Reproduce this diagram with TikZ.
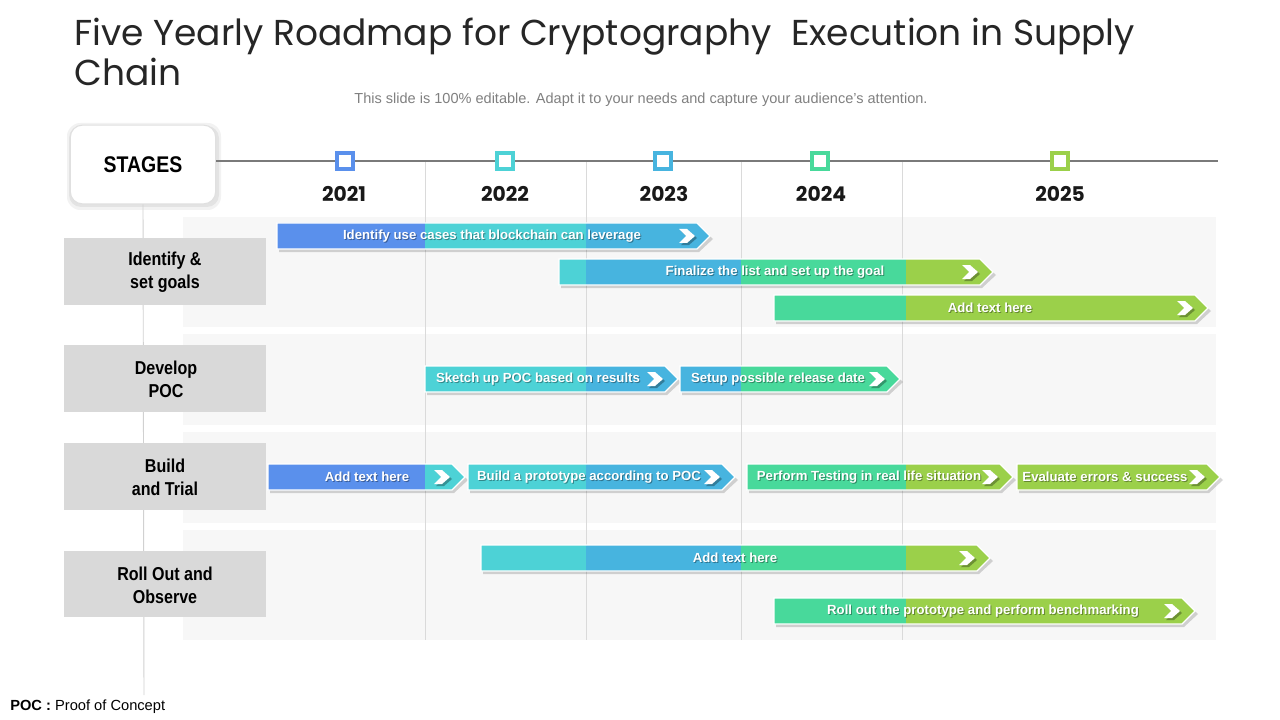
\documentclass[tikz,border=0pt]{standalone}
\usepackage{fontspec}
\setmainfont{Liberation Sans}
\newfontfamily\titlefont{Poppins}
\newfontfamily\condfont{Liberation Sans}[FakeStretch=0.86]
\usetikzlibrary{calc}
\definecolor{cA}{HTML}{5A90EC}
\definecolor{cB}{HTML}{4DD2D6}
\definecolor{cC}{HTML}{47B4DF}
\definecolor{cD}{HTML}{48D99B}
\definecolor{cE}{HTML}{9BD04A}
\definecolor{panel}{HTML}{F7F7F7}
\definecolor{stagebox}{HTML}{D9D9D9}
\definecolor{colline}{HTML}{DADADA}
\tikzset{
  bartext/.style={font=\bfseries\fontsize{9.9}{11}\selectfont, text=white, inner sep=0pt},
  stagelabel/.style={font=\condfont\bfseries\fontsize{14}{17}\selectfont, align=center, text=black},
  yearlabel/.style={font=\titlefont\bfseries\fontsize{15.2}{17}\selectfont, text=black!90},
  marker/.style={draw=#1, fill=white, line width=3pt, minimum size=11.5pt, inner sep=0pt, rectangle},
}
% name, x1, x2, yc, textx, text
\newcommand\rmbar[6]{%
  \fill[black,opacity=0.16] (#2+2,#4-10) -- (#3-11,#4-10) -- (#3+3,#4+3) -- (#3-11,#4+16) -- (#2+2,#4+16) -- cycle;
  \begin{scope}
    \clip (#2,#4-13) -- (#3-13,#4-13) -- (#3,#4) -- (#3-13,#4+13) -- (#2,#4+13) -- cycle;
    \fill[cA] (0,0) rectangle (425,720);
    \fill[cB] (425,0) rectangle (586,720);
    \fill[cC] (586,0) rectangle (741,720);
    \fill[cD] (741,0) rectangle (906,720);
    \fill[cE] (906,0) rectangle (1280,720);
  \end{scope}
  \draw[white,line width=0.9pt,line join=miter] (#2,#4-13) -- (#3-13,#4-13) -- (#3,#4) -- (#3-13,#4+13) -- (#2,#4+13) -- cycle;
  \node[bartext,text=black,opacity=0.35] (#1s) at (#5+1,#4+1.2) {#6};
  \node[bartext] (#1) at (#5,#4) {#6};
  \fill[black,opacity=0.3] (#3-29,#4-5) -- (#3-21,#4-5) -- (#3-13,#4+2) -- (#3-21,#4+9) -- (#3-29,#4+9) -- (#3-22,#4+2) -- cycle;
  \fill[white] (#3-31,#4-7) -- (#3-23,#4-7) -- (#3-15,#4) -- (#3-23,#4+7) -- (#3-31,#4+7) -- (#3-24,#4) -- cycle;
}
\begin{document}
\begin{tikzpicture}[x=0.75pt,y=-0.75pt]
\useasboundingbox (0,0) rectangle (1280,720);
\fill[white] (0,0) rectangle (1280,720);

% title
\node[anchor=base west, inner sep=0pt, align=left, font=\titlefont\fontsize{27}{30}\selectfont, text=black!85] (title) at (74,86) {Five Yearly Roadmap for Cryptography\ \ Execution in Supply\\Chain};
\node[font=\fontsize{10.9}{12}\selectfont, text=black!50, inner sep=0pt] (sub) at (641,100) {This slide is 100\% editable. Adapt it to your needs and capture your audience's attention.};

% row panels
\fill[panel] (183,217) rectangle (1216,327);
\fill[panel] (183,334) rectangle (1216,425);
\fill[panel] (183,432) rectangle (1216,523);
\fill[panel] (183,530) rectangle (1216,640);

% column lines
\foreach \cx in {425,586,741,902} \draw[colline,line width=0.7pt] (\cx,162) -- (\cx,640);

% stages box
\fill[black,opacity=0.05,rounded corners=10pt] (67,123) rectangle (221,210);
\fill[black,opacity=0.06,rounded corners=9pt] (69,126) rectangle (219,207);
\node[draw=black!12, fill=white, rounded corners=9pt, minimum width=109pt, minimum height=59pt, line width=0.8pt, font=\condfont\bfseries\fontsize{17}{20}\selectfont] (stages) at (143,164.5) {STAGES};
\coordinate (vend) at (144,695);
\draw[black!18,line width=0.7pt] (stages.south) -- (vend);

% timeline
\coordinate (tlend) at (1218,161);
\draw[black!52,line width=1.5pt] (stages.east) ++(0,-3.5) -- (tlend);
\node[marker=cA] (m21) at (345,161) {};
\node[marker=cB] (m22) at (505,161) {};
\node[marker=cC] (m23) at (663,161) {};
\node[marker=cD] (m24) at (820,161) {};
\node[marker=cE] (m25) at (1060,161) {};
\node[yearlabel] (y21) at (344,194) {2021};
\node[yearlabel] (y22) at (505,194) {2022};
\node[yearlabel] (y23) at (664,194) {2023};
\node[yearlabel] (y24) at (821,194) {2024};
\node[yearlabel] (y25) at (1060,194) {2025};

% stage labels
\fill[stagebox] (64,238) rectangle (266,305);
\node[stagelabel] (s1) at (165,272) {Identify \&\\set goals};
\fill[stagebox] (64,345) rectangle (266,412);
\node[stagelabel] (s2) at (166,379) {Develop\\POC};
\fill[stagebox] (64,443) rectangle (266,510);
\node[stagelabel] (s3) at (165,477) {Build\\and Trial};
\fill[stagebox] (64,551) rectangle (266,617);
\node[stagelabel] (s4) at (165,585) {Roll Out and\\Observe};

% bars
\rmbar{b1}{277}{710}{236}{492}{Identify use cases that blockchain can leverage}
\rmbar{b2}{559}{993}{272}{775}{Finalize the list and set up the goal}
\rmbar{b3}{774}{1208}{308}{990}{Add text here}
\rmbar{b4}{425}{678}{379}{538}{Sketch up POC based on results}
\rmbar{b5}{680}{900}{379}{778}{Setup possible release date}
\rmbar{b6}{268}{465}{477}{367}{Add text here}
\rmbar{b7}{468}{735}{477}{589}{Build a prototype according to POC}
\rmbar{b8}{747}{1013}{477}{869}{Perform Testing in real life situation}
\rmbar{b9}{1017}{1220}{477}{1105}{Evaluate errors \& success}
\rmbar{b10}{481}{990}{558}{735}{Add text here}
\rmbar{b11}{774}{1195}{611}{983}{Roll out the prototype and perform benchmarking}

% footnote
\node[anchor=base west, inner sep=0pt, font=\fontsize{11}{12}\selectfont] (foot) at (10,710) {\textbf{POC :} Proof of Concept};
\end{tikzpicture}
\end{document}
